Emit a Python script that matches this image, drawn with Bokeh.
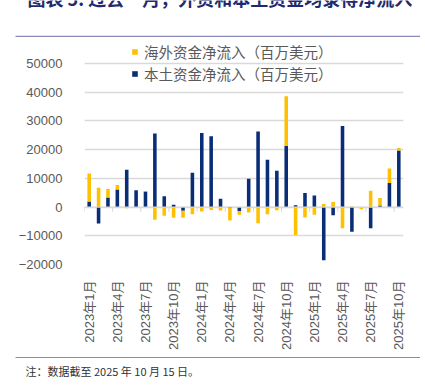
import math
import numpy as np
from bokeh.plotting import figure
from bokeh.layouts import column
from bokeh.models import (ColumnDataSource, Legend, LegendItem, Label, FixedTicker,
                          Span, BoxAnnotation)
from bokeh.embed import file_html
from bokeh.resources import INLINE

# ---- data (USD mn) ----
months = [f"{y}年{m}月" for y in (2023, 2024, 2025) for m in range(1, 13)][:34]
foreign = [9700, 6700, 3000, 1600, -450, -300, 200, -4400, -3000, -3700, -2500, -2500,
           -1550, -1000, -1200, -4400, -1300, -1900, -5600, -2500, -1100, 17200, -9700, -3600,
           -2700, 1050, 1750, -7400, 200, -800, 5700, 2650, 5100, 900]
domestic = [1950, -5750, 3300, 6100, 13000, 5850, 5400, 25600, 3800, 800, -1250, 11900,
            25750, 24600, 2850, -300, -1350, 9850, 26300, 16450, 12600, 21350, 650, 4900,
            4050, -18500, -2900, 28250, -8600, 0, -7350, 500, 8350, 19650]
y_ticks = [-20000, -10000, 0, 10000, 20000, 30000, 40000, 50000]
label_every = 3
title_text = "图表 5: 过去一月，外资和本土资金均录得净流入"
note_text = "注：数据截至 2025 年 10 月 15 日。"
name_foreign = "海外资金净流入（百万美元）"
name_domestic = "本土资金净流入（百万美元）"

ORANGE = "#FFC000"
BLUE = "#0A2D78"
GRAY = "#595959"
GRID = "#D9D9D9"
RULE = "#8A8AB8"

W = 420
H_TOP, H_MAIN, H_BOT = 40, 312, 28

n = len(months)
x = np.arange(n)
f = np.array(foreign, dtype=float)
d = np.array(domestic, dtype=float)
d_bot = np.minimum(d, 0)
d_top = np.maximum(d, 0)
f_base = np.where(f >= 0, d_top, d_bot)
f_bot = np.where(f >= 0, f_base, f_base + f)
f_top = np.where(f >= 0, f_base + f, f_base)
src = ColumnDataSource(dict(x=x, d_bot=d_bot, d_top=d_top, f_bot=f_bot, f_top=f_top))


def blank(h):
    q = figure(width=W, height=h, output_backend="svg", toolbar_location=None,
               x_range=(0, W), y_range=(0, h), min_border=0, frame_align=False)
    q.axis.visible = False
    q.grid.visible = False
    q.outline_line_color = None
    return q


# ---- top strip: title (cut off at the top edge, as in the source) and rule ----
top = blank(H_TOP)
top.add_layout(Label(x=27, y=30, text=title_text, text_font="Noto Sans CJK SC",
                     text_font_size="18px", text_font_style="bold",
                     text_color="#1F2A6E", text_baseline="bottom"))
top.add_layout(BoxAnnotation(left=15, right=420, bottom=3.5, top=4.7,
                             fill_color=RULE, fill_alpha=1, line_color=None))

# ---- main chart ----
frame_top_gap = 23          # px between figure top and the 50000 gridline
frame_h = 202               # px between 50000 and -20000 gridlines
span = y_ticks[-1] - y_ticks[0]
y_end = y_ticks[-1] + frame_top_gap * span / frame_h

p = figure(width=W, height=H_MAIN, output_backend="svg", toolbar_location=None,
           x_range=(-0.5, n - 0.5), y_range=(y_ticks[0], y_end), frame_align=False,
           min_border_left=84, min_border_right=W - 403, min_border_top=0,
           min_border_bottom=H_MAIN - (frame_top_gap + frame_h))
p.outline_line_color = None
p.xgrid.grid_line_color = None
p.ygrid.grid_line_color = GRID
p.ygrid.grid_line_width = 1.3
p.yaxis.ticker = FixedTicker(ticks=y_ticks)

p.add_layout(Span(location=0, dimension="width", line_color=GRID, line_width=1.3))
bounds = [i - 0.5 for i in range(0, n, label_every)]
p.segment(x0=bounds, x1=bounds, y0=[0] * len(bounds), y1=[-1700] * len(bounds),
          line_color=GRID, line_width=1)

rd = p.vbar(x="x", bottom="d_bot", top="d_top", width=0.38, source=src,
            fill_color=BLUE, line_color=None)
rf = p.vbar(x="x", bottom="f_bot", top="f_top", width=0.38, source=src,
            fill_color=ORANGE, line_color=None)

font = "'Liberation Sans', 'Noto Sans CJK SC', sans-serif"
for ax in (p.xaxis[0], p.yaxis[0]):
    ax.axis_line_color = None
    ax.major_tick_line_color = None
    ax.minor_tick_line_color = None
    ax.major_label_text_color = GRAY
    ax.major_label_text_font = font
    ax.major_label_text_font_size = "13px"
p.yaxis.major_label_standoff = 16
p.xaxis.ticker = FixedTicker(ticks=list(range(0, n, label_every)))
p.xaxis.major_label_overrides = {i: months[i] for i in range(0, n, label_every)}
p.xaxis.major_label_orientation = math.pi / 2
p.xaxis.major_label_standoff = 10

legend = Legend(items=[LegendItem(label=name_foreign, renderers=[rf]),
                       LegendItem(label=name_domestic, renderers=[rd])],
                location=(47, 180), orientation="vertical",
                glyph_width=7, glyph_height=7, label_height=20, spacing=1,
                label_standoff=6, padding=0, margin=0,
                label_text_font="Noto Sans CJK SC", label_text_font_size="14.5px",
                label_text_color=GRAY, border_line_color=None,
                background_fill_alpha=0)
p.add_layout(legend)

# ---- bottom strip: rule and note ----
bot = blank(H_BOT)
bot.add_layout(BoxAnnotation(left=15, right=420, bottom=H_BOT - 5.6, top=H_BOT - 4.4,
                             fill_color=RULE, fill_alpha=1, line_color=None))
bot.add_layout(Label(x=25, y=H_BOT - 18, text=note_text, text_font="Noto Sans CJK SC",
                     text_font_size="11px", text_color="#333333",
                     text_baseline="middle"))

layout = column(top, p, bot, spacing=0)
open("out.html", "w").write(file_html(layout, INLINE))
